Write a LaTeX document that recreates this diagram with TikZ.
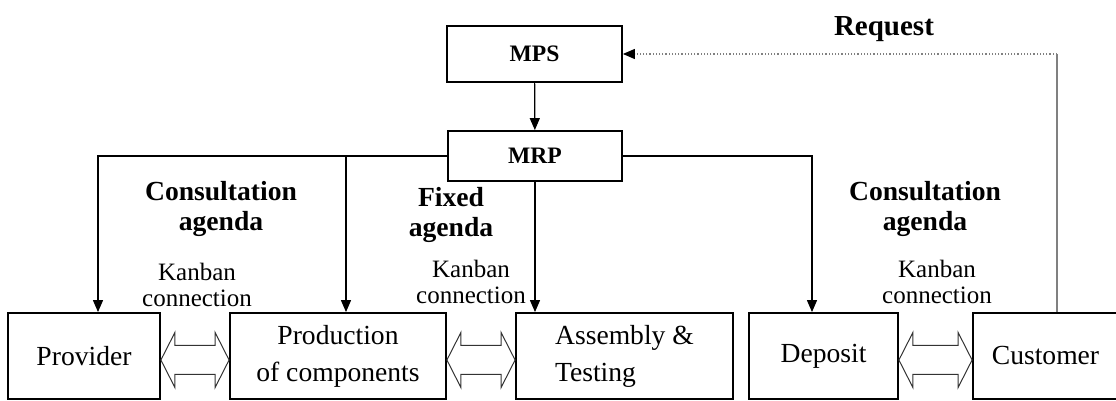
\documentclass[tikz,border=0pt]{standalone}
\usepackage{fontspec}
\setmainfont{Liberation Serif}
\usetikzlibrary{arrows.meta,calc}

\newcommand{\kanbanlink}[2]{%
  \coordinate (#1-l) at ($(#1.east)+(0,-4)$);
  \coordinate (#1-r) at (#1-l -| #2.west);
  \draw[link] (#1-l) -- ++(14,27.5) -- ++(0,-13) -- ($(#1-r)+(-14,14.5)$) -- ++(0,13) -- (#1-r)
    -- ++(-14,-27.5) -- ++(0,13) -- ($(#1-l)+(14,-14.5)$) -- ++(0,-13) -- cycle;}

\begin{document}
\begin{tikzpicture}[x=0.5pt,y=0.5pt,line width=0.6pt,>={Triangle[length=6pt,width=5pt]},
  main node/.style={draw,line width=0.9pt,inner sep=0pt,align=center,font=\fontsize{13.8}{18.5}\selectfont},
  plan node/.style={draw,line width=0.9pt,inner sep=0pt,font=\bfseries\fontsize{11.8}{14}\selectfont},
  agenda/.style={align=center,inner sep=0pt,font=\bfseries\fontsize{13.8}{15}\selectfont},
  kanban/.style={align=center,inner sep=0pt,font=\fontsize{12.5}{13}\selectfont},
  link/.style={line width=0.5pt,draw=black!80}]
  \useasboundingbox (0,0) rectangle (1116,401);

  \node[plan node,minimum width=87.5pt,minimum height=28pt] at (534.5,347) (mps) {MPS};
  \node[plan node,minimum width=87pt,minimum height=25pt] at (535,245) (mrp) {MRP};
  \node[main node,minimum width=76pt,minimum height=43pt] at (84,45) (provider) {Provider};
  \node[main node,minimum width=108pt,minimum height=43pt] at (338,45) (production) {Production\\of components};
  \node[main node,minimum width=108.5pt,minimum height=43pt,align=left] at (624.5,45) (assembly) {Assembly \&\\Testing};
  \node[main node,minimum width=74.5pt,minimum height=43pt] at (823.5,45) (deposit) {Deposit};
  \node[main node,minimum width=72.5pt,minimum height=43pt] at (1045.5,45) (customer) {Customer};

  \node[agenda] at (221,192) (consult1) {Consultation\\agenda};
  \node[agenda] at (451,186) (fixed) {Fixed\\agenda};
  \node[agenda] at (925,192) (consult2) {Consultation\\agenda};
  \node[kanban] at (197,116) (kanban1) {Kanban\\connection};
  \node[kanban] at (471,119) (kanban2) {Kanban\\connection};
  \node[kanban] at (937,119) (kanban3) {Kanban\\connection};
  \node[font=\bfseries\fontsize{14.5}{17}\selectfont,inner sep=0pt] at (884,372) (request) {Request};

  \draw[->] (mps) -- (mrp);
  \draw[->] (mrp.west) -| ([xshift=7pt]provider.north);
  \draw[->] ([xshift=4pt]production.north |- mrp.west) -- ([xshift=4pt]production.north);
  \draw[->] (mrp) -- (mrp.south |- assembly.north);
  \draw[->] (mrp.east) -| ([xshift=-5.75pt]deposit.north);

  \coordinate (turn) at ([xshift=5.75pt]customer.north |- mps.east);
  \draw[gray,line width=1pt] ([xshift=5.75pt]customer.north) -- (turn);
  \draw[-{Triangle[length=6pt,width=5pt,color=black]},gray,densely dotted] (turn) -- (mps.east);

  \kanbanlink{provider}{production}
  \kanbanlink{production}{assembly}
  \kanbanlink{deposit}{customer}
\end{tikzpicture}
\end{document}
